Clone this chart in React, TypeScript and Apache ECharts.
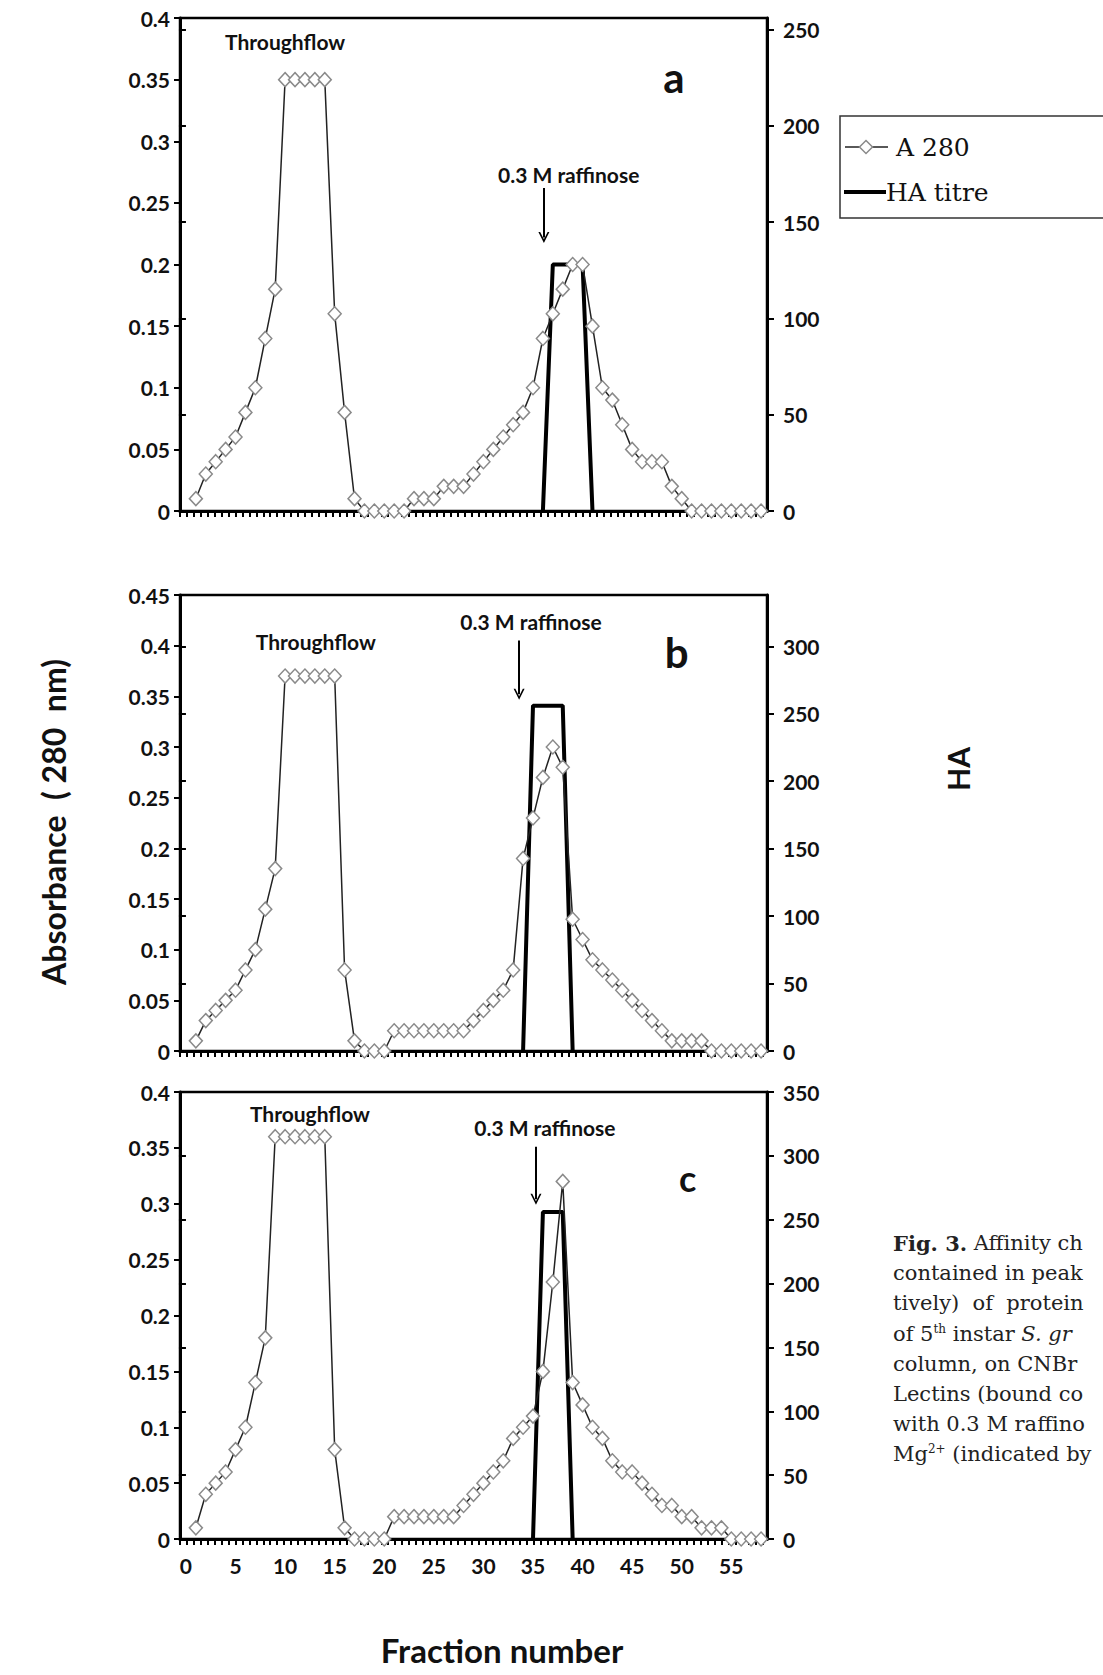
import React, { useEffect, useRef } from 'react';
import * as echarts from 'echarts';

// ---------- data ----------
const fractions = [1, 2, 3, 4, 5, 6, 7, 8, 9, 10, 11, 12, 13, 14, 15, 16, 17, 18, 19, 20, 21, 22, 23, 24, 25, 26, 27, 28, 29, 30, 31, 32, 33, 34, 35, 36, 37, 38, 39, 40, 41, 42, 43, 44, 45, 46, 47, 48, 49, 50, 51, 52, 53, 54, 55, 56, 57, 58];

const a280A = [0.01, 0.03, 0.04, 0.05, 0.06, 0.08, 0.1, 0.14, 0.18, 0.35, 0.35, 0.35, 0.35, 0.35, 0.16, 0.08, 0.01, 0, 0, 0, 0, 0, 0.01, 0.01, 0.01, 0.02, 0.02, 0.02, 0.03, 0.04, 0.05, 0.06, 0.07, 0.08, 0.1, 0.14, 0.16, 0.18, 0.2, 0.2, 0.15, 0.1, 0.09, 0.07, 0.05, 0.04, 0.04, 0.04, 0.02, 0.01, 0, 0, 0, 0, 0, 0, 0, 0];
const a280B = [0.01, 0.03, 0.04, 0.05, 0.06, 0.08, 0.1, 0.14, 0.18, 0.37, 0.37, 0.37, 0.37, 0.37, 0.37, 0.08, 0.01, 0, 0, 0, 0.02, 0.02, 0.02, 0.02, 0.02, 0.02, 0.02, 0.02, 0.03, 0.04, 0.05, 0.06, 0.08, 0.19, 0.23, 0.27, 0.3, 0.28, 0.13, 0.11, 0.09, 0.08, 0.07, 0.06, 0.05, 0.04, 0.03, 0.02, 0.01, 0.01, 0.01, 0.01, 0, 0, 0, 0, 0, 0];
const a280C = [0.01, 0.04, 0.05, 0.06, 0.08, 0.1, 0.14, 0.18, 0.36, 0.36, 0.36, 0.36, 0.36, 0.36, 0.08, 0.01, 0, 0, 0, 0, 0.02, 0.02, 0.02, 0.02, 0.02, 0.02, 0.02, 0.03, 0.04, 0.05, 0.06, 0.07, 0.09, 0.1, 0.11, 0.15, 0.23, 0.32, 0.14, 0.12, 0.1, 0.09, 0.07, 0.06, 0.06, 0.05, 0.04, 0.03, 0.03, 0.02, 0.02, 0.01, 0.01, 0.01, 0, 0, 0, 0];

const haFractionsA = [36, 37, 38, 39, 40, 41];
const haTitreA = [0, 128, 128, 128, 128, 0];
const haFractionsB = [34, 35, 36, 37, 38, 39];
const haTitreB = [0, 256, 256, 256, 256, 0];
const haFractionsC = [35, 36, 37, 38, 39];
const haTitreC = [0, 256, 256, 256, 0];

// tick labels
const fractionTickLabels = [0, 5, 10, 15, 20, 25, 30, 35, 40, 45, 50, 55];
const haTickLabelsA = [0, 50, 100, 150, 200, 250];
const haTickLabelsB = [0, 50, 100, 150, 200, 250, 300];
const haTickLabelsC = [0, 50, 100, 150, 200, 250, 300, 350];
const absorbanceMax = [0.4, 0.45, 0.4];
const haAxisMax = [256, 338, 350];
const panelLetters = ['a', 'b', 'c'];
const legendNames = ['A 280', 'HA titre'];

// annotation anchors (data coordinates)
const throughflowAt = [[10.0, 0.381], [13.1, 0.404], [12.5, 0.381]];
const raffinoseLabelAt = [[38.6, 0.273], [34.8, 0.424], [36.2, 0.368]];
const arrowX = [36.1, 33.6, 35.3];
const arrowTop = [0.262, 0.405, 0.351];
const arrowTip = [0.222, 0.352, 0.304];
const letterAt = [[49.2, 0.352], [49.5, 0.394], [50.6, 0.323]];

// ---------- layout / style ----------
const SANS = 'Lato, "Open Sans", sans-serif';
const SERIF = '"DejaVu Serif", "Liberation Serif", serif';
const X_MIN = -0.6;
const X_MAX = 58.6;
const X_TICK_STEP = 0.7;
const grids = [
  { left: 180, top: 18, width: 587, height: 493 },
  { left: 180, top: 595, width: 587, height: 456 },
  { left: 180, top: 1092, width: 587, height: 447 },
];

const CHEVRON = 'path://M0,10 L5,0 L10,10 L8.4,10 L5,3.2 L1.6,10 Z';

export default function App() {
  const ref = useRef<HTMLDivElement>(null);

  useEffect(() => {
    if (!ref.current) return;
    const chart = echarts.init(ref.current, undefined, { renderer: 'svg' });

    const xTicks: number[] = [];
    for (let v = X_MIN; v <= X_MAX + 1e-9; v += X_TICK_STEP) xTicks.push(Math.round(v * 1000) / 1000);

    const a280 = [a280A, a280B, a280C];
    const haF = [haFractionsA, haFractionsB, haFractionsC];
    const haV = [haTitreA, haTitreB, haTitreC];
    const haTicks = [haTickLabelsA, haTickLabelsB, haTickLabelsC];

    const labelFont = { fontFamily: SANS, fontWeight: 'bold' as const, fontSize: 21, color: '#111' };

    const xAxis = [0, 1, 2].map((i) => ({
      type: 'value',
      gridIndex: i,
      min: X_MIN,
      max: X_MAX,
      axisLine: { show: true, onZero: false, lineStyle: { color: '#000', width: 3 } },
      axisTick: { show: true, inside: false, length: 6, customValues: xTicks, lineStyle: { color: '#000', width: 2 } },
      axisLabel: { show: i === 2, customValues: fractionTickLabels, margin: 16, ...labelFont },
      splitLine: { show: false },
    }));

    const yAxis: any[] = [];
    [0, 1, 2].forEach((i) => {
      yAxis.push({
        type: 'value',
        gridIndex: i,
        position: 'left',
        min: 0,
        max: absorbanceMax[i],
        interval: 0.05,
        axisLine: { show: true, onZero: false, lineStyle: { color: '#000', width: 3 } },
        axisTick: { show: true, inside: false, length: 6, lineStyle: { color: '#000', width: 2 } },
        axisLabel: { margin: 10, ...labelFont },
        splitLine: { show: false },
      });
      yAxis.push({
        type: 'value',
        gridIndex: i,
        position: 'right',
        min: 0,
        max: haAxisMax[i],
        axisLine: { show: true, onZero: false, lineStyle: { color: '#000', width: 3 } },
        axisTick: { show: true, inside: false, length: 7, customValues: haTicks[i], lineStyle: { color: '#000', width: 2 } },
        axisLabel: { customValues: haTicks[i], margin: 16, ...labelFont },
        splitLine: { show: false },
      });
      yAxis.push({
        type: 'value',
        gridIndex: i,
        position: 'right',
        min: 0,
        max: haAxisMax[i],
        axisLine: { show: false },
        axisTick: { show: true, inside: true, length: 7, customValues: haTicks[i], lineStyle: { color: '#000', width: 2 } },
        axisLabel: { show: false },
        splitLine: { show: false },
      });
    });

    const series: any[] = [];
    [0, 1, 2].forEach((i) => {
      series.push({
        type: 'line',
        name: legendNames[1],
        xAxisIndex: i,
        yAxisIndex: i * 3 + 1,
        data: haF[i].map((f, k) => [f, haV[i][k]]),
        symbol: 'none',
        lineStyle: { color: '#000', width: 4 },
        itemStyle: { color: '#000' },
        z: 2,
        clip: false,
      });
      series.push({
        type: 'line',
        name: legendNames[0],
        xAxisIndex: i,
        yAxisIndex: i * 3,
        data: fractions.map((f, k) => [f, a280[i][k]]),
        symbol: 'diamond',
        symbolSize: [13, 14],
        showAllSymbol: true,
        itemStyle: { color: '#fff', borderColor: '#8a8a8a', borderWidth: 1.5 },
        lineStyle: { color: '#222', width: 1.5 },
        z: 3,
        clip: false,
        markPoint: {
          symbol: 'rect',
          symbolSize: 1,
          silent: true,
          itemStyle: { color: 'rgba(0,0,0,0)' },
          label: { show: true, position: 'inside', fontFamily: SANS, fontWeight: 'bold', color: '#111' },
          data: [
            { coord: throughflowAt[i], label: { formatter: 'Throughflow', fontSize: 21 } },
            { coord: raffinoseLabelAt[i], label: { formatter: '0.3 M raffinose', fontSize: 21 } },
            { coord: letterAt[i], label: { formatter: panelLetters[i], fontSize: i === 2 ? 36 : 42 } },
          ],
        },
        markLine: {
          silent: true,
          symbol: ['none', CHEVRON],
          symbolSize: [11, 11],
          lineStyle: { color: '#000', width: 2, type: 'solid' },
          label: { show: false },
          data: [[{ coord: [arrowX[i], arrowTop[i]] }, { coord: [arrowX[i], arrowTip[i]] }]],
        },
      });
    });

    const captionLines = [
      '{b|Fig. 3.} Affinity ch',
      'contained in peak',
      'tively)  of  protein',
      'of 5{sup|th} instar {i|S. gr}',
      'column, on CNBr',
      'Lectins (bound co',
      'with 0.3 M raffino',
      'Mg{sup|2+} (indicated by',
    ];

    const graphic: any[] = [
      {
        type: 'text',
        x: 53,
        y: 822,
        rotation: Math.PI / 2,
        style: { text: 'Absorbance  ( 280  nm)', fontFamily: SANS, fontWeight: 'bold', fontSize: 32, fill: '#111', align: 'center', verticalAlign: 'middle' },
      },
      {
        type: 'text',
        x: 958,
        y: 769,
        rotation: Math.PI / 2,
        style: { text: 'HA', fontFamily: SANS, fontWeight: 'bold', fontSize: 30, fill: '#111', align: 'center', verticalAlign: 'middle' },
      },
      {
        type: 'text',
        x: 502,
        y: 1650,
        style: { text: 'Fraction number', fontFamily: SANS, fontWeight: 'bold', fontSize: 33, fill: '#111', align: 'center', verticalAlign: 'middle' },
      },
      // legend (drawn by hand so the keys match the reference)
      {
        type: 'rect',
        shape: { x: 840, y: 116, width: 300, height: 102 },
        style: { fill: 'none', stroke: '#333', lineWidth: 1.5 },
      },
      { type: 'line', shape: { x1: 845, y1: 147, x2: 888, y2: 147 }, style: { stroke: '#222', lineWidth: 1.5 } },
      {
        type: 'polygon',
        shape: { points: [[866, 140.5], [872.5, 147], [866, 153.5], [859.5, 147]] },
        style: { fill: '#fff', stroke: '#8a8a8a', lineWidth: 1.5 },
      },
      {
        type: 'text',
        x: 896,
        y: 147,
        style: { text: legendNames[0], fontFamily: SERIF, fontSize: 25, fill: '#111', verticalAlign: 'middle' },
      },
      { type: 'line', shape: { x1: 844, y1: 192, x2: 886, y2: 192 }, style: { stroke: '#000', lineWidth: 4 } },
      {
        type: 'text',
        x: 886,
        y: 192,
        style: { text: legendNames[1], fontFamily: SERIF, fontSize: 25, fill: '#111', verticalAlign: 'middle' },
      },
      ...captionLines.map((t, k) => ({
        type: 'text',
        x: 893,
        y: 1243 + k * 30.2,
        style: {
          text: t,
          fontFamily: SERIF,
          fontSize: 21,
          fill: '#222',
          verticalAlign: 'middle',
          rich: {
            b: { fontFamily: SERIF, fontSize: 21, fontWeight: 'bold', fill: '#222' },
            i: { fontFamily: SERIF, fontSize: 21, fontStyle: 'italic', fill: '#222' },
            sup: { fontFamily: SERIF, fontSize: 12, fill: '#222', verticalAlign: 'top', padding: [0, 0, 10, 0] },
          },
        },
      })),
    ];

    chart.setOption({
      animation: false,
      backgroundColor: '#fff',
      grid: grids.map((g) => ({ ...g, show: true, borderColor: '#000', borderWidth: 2.5, backgroundColor: 'transparent' })),
      xAxis,
      yAxis,
      series,
      graphic,
    });

    return () => chart.dispose();
  }, []);

  return (
    <div
      ref={ref}
      style={{ position: 'absolute', left: 0, top: 0, width: 1103, height: 1675, background: '#fff' }}
    />
  );
}
